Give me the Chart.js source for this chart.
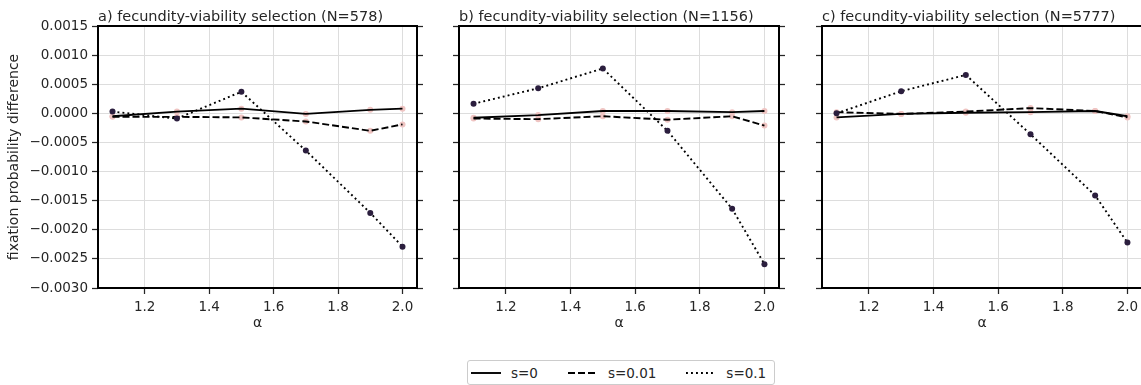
<!DOCTYPE html>
<html>
<head>
<meta charset="utf-8">
<script src="https://cdn.jsdelivr.net/npm/chart.js@4.4.1/dist/chart.umd.min.js"></script>
<style>
  html, body { margin: 0; padding: 0; background: #fff; }
  #wrap { position: relative; width: 1141px; height: 385px; overflow: hidden; font-family: 'DejaVu Sans', sans-serif; }
  #wrap canvas { position: absolute; top: 0; }
  #legend { position: absolute; left: 467px; top: 360px; height: 25px; box-sizing: border-box;
            border: 1px solid #cccccc; border-radius: 3px; background: #fff;
            display: flex; align-items: center; padding: 0 8px 0 3px;
            color: #262626; font-size: 13.5px; white-space: nowrap; }
  #legend .item { display: flex; align-items: center; margin-right: 30px; }
  #legend .item:last-child { margin-right: 0; }
  #legend svg { display: block; }
  #legend span { margin-left: 10px; }
</style>
</head>
<body>
<div id="wrap">
  <canvas id="panelA"></canvas>
  <canvas id="panelB"></canvas>
  <canvas id="panelC"></canvas>
  <div id="legend"></div>
</div>
<script>
// stable-distribution index on the x axis
const alphaValues = [1.1, 1.3, 1.5, 1.7, 1.9, 2.0];
const xTickValues = [1.2, 1.4, 1.6, 1.8, 2.0];
const yTickValues = [-0.003, -0.0025, -0.002, -0.0015, -0.001, -0.0005, 0, 0.0005, 0.001, 0.0015];
const seriesLabels = ['s=0', 's=0.01', 's=0.1'];
const panelTitles = [
  'a) fecundity-viability selection (N=578)',
  'b) fecundity-viability selection (N=1156)',
  'c) fecundity-viability selection (N=5777)'
];

// fixation probability differences, N=578
const diffA_s0   = [-0.00005, 0.00003, 0.00008, -0.00001, 0.00006, 0.00008];
const diffA_s001 = [-0.00006, -0.00006, -0.00007, -0.00014, -0.00030, -0.00019];
const diffA_s01  = [0.00003, -0.00009, 0.00037, -0.00064, -0.00171, -0.00229];
// N=1156
const diffB_s0   = [-0.000075, -0.00003, 0.00004, 0.00004, 0.00002, 0.00004];
const diffB_s001 = [-0.00009, -0.00010, -0.00005, -0.00011, -0.00005, -0.00021];
const diffB_s01  = [0.000165, 0.00043, 0.00077, -0.00030, -0.00164, -0.00259];
// N=5777
const diffC_s0   = [-0.00007, -0.00001, 0.00001, 0.00002, 0.00004, -0.00005];
const diffC_s001 = [0.00002, -0.00001, 0.00003, 0.00009, 0.00004, -0.00007];
const diffC_s01  = [0.0, 0.00038, 0.00066, -0.00036, -0.00141, -0.00222];

const TEXT = '#262626';
const FONT = "'DejaVu Sans', sans-serif";
const LINE_W = 1.9;
const DASHES = [[], [7, 3], [1.9, 3.1]];
const LIGHT_MARK = '#efc4c2';
const DARK_MARK = '#2b1e3e';

const toPoints = vals => alphaValues.map((a, i) => ({ x: a, y: vals[i] }));

const fmtY = v => (v < 0 ? '\u2212' : '') + Math.abs(v).toFixed(4);

// black frame around the plotting area and a left-aligned panel title
const framePlugin = {
  id: 'panelFrame',
  afterDatasetsDraw(chart) {
    const { ctx, chartArea: a } = chart;
    ctx.save();
    ctx.strokeStyle = '#000';
    ctx.lineWidth = 2;
    ctx.strokeRect(a.left, a.top, a.right - a.left, a.bottom - a.top);
    ctx.restore();
  }
};
const titlePlugin = {
  id: 'panelTitle',
  afterDraw(chart, args, opts) {
    const { ctx, chartArea: a } = chart;
    ctx.save();
    ctx.font = '14.5px ' + FONT;
    ctx.fillStyle = TEXT;
    ctx.textAlign = 'left';
    ctx.textBaseline = 'alphabetic';
    ctx.fillText(opts.text, a.left, a.top - 5);
    ctx.restore();
  }
};

function makePanel(id, left, leftWidth, plotWidth, title, s0, s001, s01, showYLabels) {
  const rightWidth = 10;
  const canvas = document.getElementById(id);
  const w = leftWidth + plotWidth + rightWidth;
  const h = 332;
  canvas.width = w; canvas.height = h;
  canvas.style.left = left + 'px';
  canvas.style.width = w + 'px'; canvas.style.height = h + 'px';

  const lineSet = (vals, k, order) => ({
    label: seriesLabels[k],
    data: toPoints(vals),
    borderColor: '#000',
    borderWidth: LINE_W,
    borderDash: DASHES[k],
    borderCapStyle: 'butt',
    pointRadius: 0,
    fill: false,
    tension: 0,
    order: order
  });
  const markSet = (vals, color, order) => ({
    data: toPoints(vals),
    showLine: false,
    pointRadius: 3,
    pointBorderWidth: 0,
    pointBackgroundColor: color,
    pointBorderColor: color,
    order: order
  });

  const yTicksFixed = s => { s.ticks = yTickValues.map(v => ({ value: v })); };

  new Chart(canvas, {
    type: 'line',
    data: {
      datasets: [
        markSet(s0, LIGHT_MARK, 3),
        markSet(s001, LIGHT_MARK, 3),
        lineSet(s0, 0, 2),
        lineSet(s001, 1, 2),
        lineSet(s01, 2, 1),
        markSet(s01, DARK_MARK, 0)
      ]
    },
    options: {
      responsive: false,
      animation: false,
      devicePixelRatio: 1,
      layout: { padding: { top: 26, left: 0, right: 0, bottom: 0 } },
      plugins: {
        legend: { display: false },
        tooltip: { enabled: false },
        panelTitle: { text: title }
      },
      scales: {
        x: {
          type: 'linear',
          position: 'bottom',
          min: 1.055,
          max: 2.045,
          afterBuildTicks: s => { s.ticks = xTickValues.map(v => ({ value: v })); },
          afterFit: s => { s.height = 44; },
          border: { display: false },
          grid: { color: '#dddddd', lineWidth: 1, tickColor: TEXT, tickWidth: 1.25, tickLength: 6 },
          ticks: { color: TEXT, font: { family: FONT, size: 13.5 }, padding: 5, maxRotation: 0,
                   callback: v => Number(v).toFixed(1) },
          title: { display: true, text: 'α', color: TEXT, font: { family: FONT, size: 14 },
                   padding: { top: 0, bottom: 0 } }
        },
        y: {
          type: 'linear',
          position: 'left',
          min: -0.003,
          max: 0.0015,
          afterBuildTicks: yTicksFixed,
          afterFit: s => { s.width = leftWidth; },
          border: { display: false },
          grid: { color: '#dddddd', lineWidth: 1, tickColor: TEXT, tickWidth: 1.25, tickLength: 6 },
          ticks: { display: showYLabels, color: TEXT, font: { family: FONT, size: 13.5 }, padding: 4,
                   callback: v => fmtY(v) },
          title: { display: showYLabels, text: 'fixation probability difference', color: TEXT,
                   font: { family: FONT, size: 14 }, padding: { top: 5.5, bottom: 0 } }
        },
        yR: {
          type: 'linear',
          position: 'right',
          min: -0.003,
          max: 0.0015,
          afterBuildTicks: yTicksFixed,
          afterFit: s => { s.width = rightWidth; },
          border: { display: false },
          grid: { drawOnChartArea: false, tickColor: TEXT, tickWidth: 1.25, tickLength: 6 },
          ticks: { display: false }
        }
      }
    },
    plugins: [framePlugin, titlePlugin]
  });
}

makePanel('panelA', 0, 98, 319, panelTitles[0], diffA_s0, diffA_s001, diffA_s01, true);
makePanel('panelB', 419, 40, 320, panelTitles[1], diffB_s0, diffB_s001, diffB_s01, false);
makePanel('panelC', 782, 40, 320, panelTitles[2], diffC_s0, diffC_s001, diffC_s01, false);

// shared legend of line styles
const legend = document.getElementById('legend');
seriesLabels.forEach((lab, k) => {
  const item = document.createElement('div');
  item.className = 'item';
  const dash = DASHES[k].length ? ` stroke-dasharray="${DASHES[k].join(' ')}"` : '';
  item.innerHTML = `<svg width="30" height="10"><line x1="0" y1="5" x2="30" y2="5" stroke="#000" stroke-width="${LINE_W}"${dash}/></svg><span>${lab}</span>`;
  legend.appendChild(item);
});
</script>
</body>
</html>
